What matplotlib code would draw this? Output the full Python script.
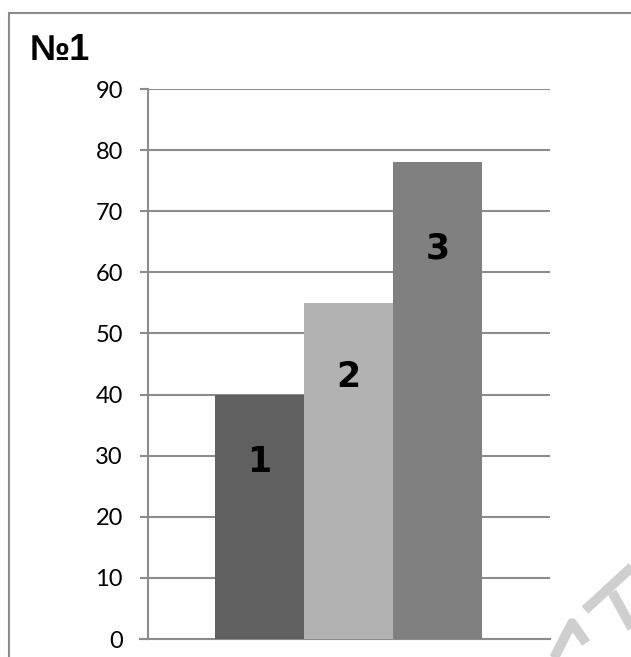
import matplotlib.pyplot as plt
from matplotlib.lines import Line2D
from matplotlib.patches import Rectangle

# chart data
categories = ["1", "2", "3"]
values = [40, 55, 78]
bar_colors = ["#606060", "#b2b2b2", "#808080"]
y_ticks = [0, 10, 20, 30, 40, 50, 60, 70, 80, 90]

plt.rcParams["font.family"] = ["Lato", "DejaVu Sans"]

W, H = 631, 657
fig = plt.figure(figsize=(W / 100, H / 100), dpi=100)
fig.patch.set_facecolor("white")

def px(x, y):
    # pixel position (from top-left) -> figure fraction
    return x / W, 1 - y / H

# outer frame, cut off at right and bottom
fig.patches.append(Rectangle(px(9, 700), 700 / W, (700 - 13) / H,
                             transform=fig.transFigure, fill=False,
                             edgecolor="#8c8c8c", linewidth=1.5))

fig.text(*px(30, 51), "№1", fontsize=26, fontweight="bold",
         family=["Liberation Sans"], va="center", ha="left")

l, t = px(148, 89)
r, b = px(550, 639)
ax = fig.add_axes([l, b, r - l, t - b])

pos = list(range(len(values)))
ax.bar(pos, values, width=1.0, color=bar_colors, zorder=3)
# labels sit a bit below the top of each bar
for p, v, c in zip(pos, values, categories):
    ax.text(p, 0.92 * v - 7.8, c, ha="center", va="center", fontsize=25,
            fontweight="bold", family=["DejaVu Sans"], zorder=4)

ax.set_xlim(-1.253, 3.264)
ax.set_ylim(0, 90)
ax.set_yticks(y_ticks)
ax.set_xticks([])
ax.yaxis.grid(True, color="#8c8c8c", linewidth=1.5, zorder=0)
ax.set_axisbelow(True)
for s in ["top", "right"]:
    ax.spines[s].set_visible(False)
for s in ["left", "bottom"]:
    ax.spines[s].set_color("#8c8c8c")
    ax.spines[s].set_linewidth(1.5)
ax.tick_params(axis="y", length=6, width=1.5, color="#8c8c8c",
               labelsize=17, pad=12)

# extend the zero line to the left like a tick
fig.lines.append(Line2D([px(140, 0)[0], px(148, 0)[0]], [b, b],
                        transform=fig.transFigure, color="#8c8c8c", linewidth=1.5))

# faint watermark strokes in the lower right corner
strokes = [[(553, 660), (572, 623), (586, 643)],
           [(585, 610), (634, 565)],
           [(612, 592), (634, 632)]]
for s in strokes:
    xs = [px(x, y)[0] for x, y in s]
    ys = [px(x, y)[1] for x, y in s]
    fig.lines.append(Line2D(xs, ys, transform=fig.transFigure,
                            color="#cfcfcf", linewidth=7, solid_capstyle="butt"))

fig.savefig("out.png", dpi=100)
